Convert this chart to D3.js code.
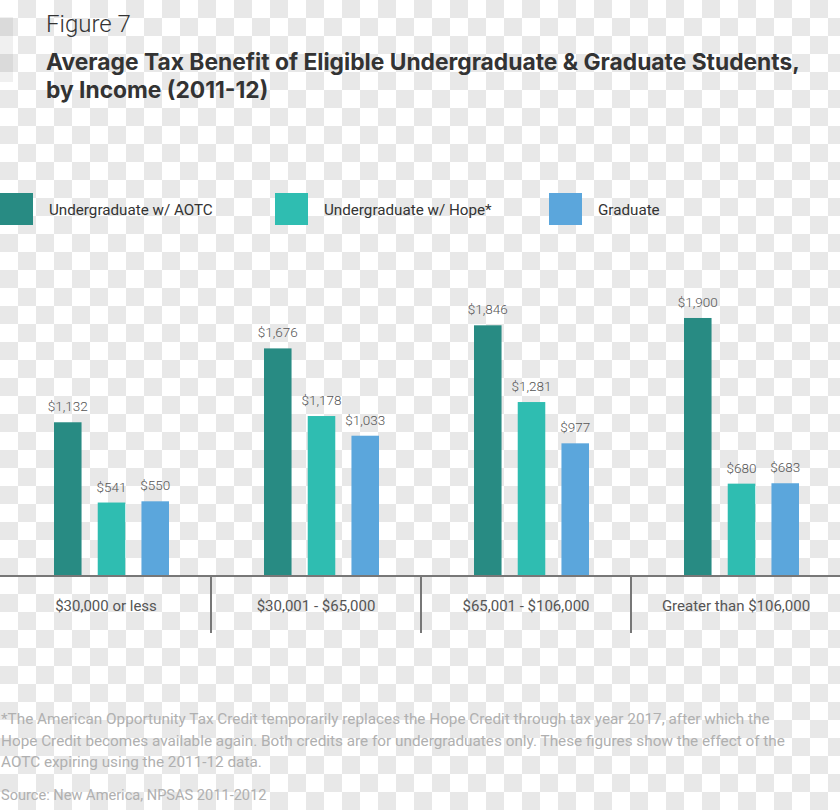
<!DOCTYPE html>
<html><head><meta charset="utf-8">
<script src="https://cdn.jsdelivr.net/npm/d3@7"></script>
<style>html,body{margin:0;padding:0;background:#fff;}svg{display:block;}</style>
</head><body>
<script>
const categories = ["$30,000 or less", "$30,001 - $65,000", "$65,001 - $106,000", "Greater than $106,000"];
const seriesNames = ["Undergraduate w/ AOTC", "Undergraduate w/ Hope*", "Graduate"];
const aotcValues = [1132, 1676, 1846, 1900];
const hopeValues = [541, 1178, 1281, 680];
const gradValues = [550, 1033, 977, 683];
const colors = ["#288b83", "#2fbdb1", "#5ba6dc"];
const footnoteLines = [
  "*The American Opportunity Tax Credit temporarily replaces the Hope Credit through tax year 2017, after which the",
  "Hope Credit becomes available again. Both credits are for undergraduates only. These figures show the effect of the",
  "AOTC expiring using the 2011-12 data."
];
const sourceText = "Source: New America, NPSAS 2011-2012";

const W = 840, H = 810;
const svg = d3.select("body").append("svg").attr("width", W).attr("height", H);

// checkerboard background
const defs = svg.append("defs");
const pat = defs.append("pattern").attr("id","chk").attr("width",36).attr("height",36).attr("patternUnits","userSpaceOnUse");
pat.append("rect").attr("width",36).attr("height",36).attr("fill","#ffffff");
pat.append("rect").attr("x",18).attr("y",0).attr("width",18).attr("height",18).attr("fill","#e8e8e8");
pat.append("rect").attr("x",0).attr("y",18).attr("width",18).attr("height",18).attr("fill","#e8e8e8");
svg.append("rect").attr("width",W).attr("height",H).attr("fill","url(#chk)");
svg.append("rect").attr("x",0).attr("y",17).attr("width",13).attr("height",65).attr("fill","rgba(0,0,0,0.06)");

const font = "Roboto, 'Noto Sans', sans-serif";

svg.append("text").attr("x",46).attr("y",32).text("Figure 7")
  .attr("font-family",font).attr("font-weight",300).attr("font-size",24).attr("fill","#333");
svg.append("text").attr("x",46).attr("y",70).text("Average Tax Benefit of Eligible Undergraduate & Graduate Students,")
  .attr("font-family","Inter, Roboto, sans-serif").attr("font-weight",700).attr("font-size",22.8).attr("fill","#333");
svg.append("text").attr("x",46).attr("y",98).text("by Income (2011-12)")
  .attr("font-family","Inter, Roboto, sans-serif").attr("font-weight",700).attr("font-size",22.8).attr("fill","#333");

// legend
const legendX = [0, 275, 549];
seriesNames.forEach((s,i)=>{
  svg.append("rect").attr("x",legendX[i]).attr("y",193).attr("width",33).attr("height",32).attr("fill",colors[i]);
  svg.append("text").attr("x",legendX[i]+49).attr("y",215).text(s)
    .attr("font-family",font).attr("font-weight",400).attr("font-size",15.2).attr("fill","#333");
});

const baseY = 576;
const x0 = d3.scaleBand().domain(categories).range([1, 841]);
const x1 = d3.scaleBand().domain(seriesNames).range([53, 168]).paddingInner(0.37);
const y = d3.scaleLinear().domain([0, 2000]).range([baseY, 304.4]);

const data = categories.map((c,i)=>({cat:c, vals:[aotcValues[i], hopeValues[i], gradValues[i]]}));

const g = svg.append("g");
data.forEach(d=>{
  const gx = x0(d.cat);
  d.vals.forEach((v,j)=>{
    const bx = gx + x1(seriesNames[j]);
    g.append("rect").attr("x",bx).attr("y",y(v)).attr("width",x1.bandwidth()).attr("height",baseY - y(v)).attr("fill",colors[j]);
    g.append("text").attr("x",bx + x1.bandwidth()/2).attr("y",y(v)-11).attr("text-anchor","middle")
      .text("$" + d3.format(",")(v))
      .attr("font-family",font).attr("font-weight",300).attr("font-size",13.5).attr("fill","#555");
  });
});

// axis
const axis = d3.axisBottom(x0).tickSize(0).tickPadding(0);
const ag = svg.append("g").attr("transform",`translate(0,${baseY})`).call(axis);
ag.select(".domain").remove();
ag.selectAll(".tick text").attr("y",35).attr("dy",0)
  .attr("font-family",font).attr("font-size",15).attr("fill","#555");
svg.append("line").attr("x1",0).attr("x2",W).attr("y1",baseY).attr("y2",baseY).attr("stroke","#777").attr("stroke-width",2);
categories.slice(1).forEach(c=>{
  svg.append("line").attr("x1",x0(c)).attr("x2",x0(c)).attr("y1",baseY).attr("y2",633).attr("stroke","#777").attr("stroke-width",2);
});

// footnote
footnoteLines.forEach((t,i)=>{
  svg.append("text").attr("x",1).attr("y",724 + i*21.5).text(t)
    .attr("font-family",font).attr("font-size",15.3).attr("fill","#b0b0b0");
});
svg.append("text").attr("x",1).attr("y",800).text(sourceText)
  .attr("font-family",font).attr("font-size",14.6).attr("fill","#b0b0b0");
</script>
</body></html>
